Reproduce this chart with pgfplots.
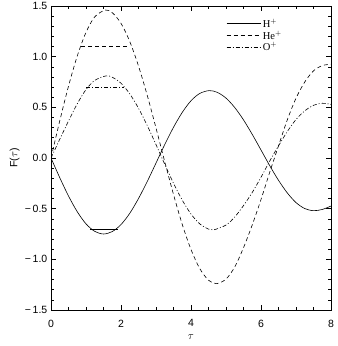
\documentclass[border=0pt]{standalone}
\usepackage{fontspec}
\setmainfont{Liberation Sans}
\newfontfamily\serifleg{Liberation Serif}
\usepackage{pgfplots}
\pgfplotsset{compat=1.18}
\begin{document}
\fontsize{10.5}{12}\selectfont
\begin{tikzpicture}
\begin{axis}[
  width=280pt, height=304pt, scale only axis,
  xmin=0, xmax=8, ymin=-1.5, ymax=1.5,
  xtick={0,2,4,6,8},
  ytick={-1.5,-1,-0.5,0,0.5,1,1.5},
  yticklabels={−\,1.5,−\,1.0,−\,0.5,0.0,0.5,1.0,1.5},
  /pgf/number format/assume math mode=true,
  minor x tick num=3, minor y tick num=4,
  tick align=inside, tick pos=both,
  major tick length=5pt, minor tick length=3pt,
  every tick/.style={black, line width=0.5pt},
  axis line style={line width=0.6pt},
  xticklabel style={yshift=-6pt},
  yticklabel style={xshift=0pt},
  xlabel={$\tau$}, ylabel={F($\tau$)},
  xlabel style={yshift=0pt},
  ylabel style={yshift=-2pt},
  legend cell align=left,
  legend style={draw=none, fill=none, at={(0.625,0.965)}, anchor=north west,
    font=\serifleg\fontsize{10.5}{10}\selectfont, inner sep=0pt, row sep=-2pt},
  legend image code/.code={\draw[#1] (0pt,0pt) -- (34pt,0pt);},
]
\addplot[black, line width=0.6pt, smooth] coordinates {
(0,0) (0.25,-0.194) (0.5,-0.375) (0.75,-0.530) (1.0,-0.650) (1.25,-0.724) (1.5,-0.750)
(1.75,-0.726) (2.0,-0.657) (2.25,-0.546) (2.5,-0.400) (2.75,-0.232) (3.0,-0.050)
(3.25,0.133) (3.5,0.303) (3.75,0.450) (4.0,0.565) (4.25,0.637) (4.52,0.665)
(4.75,0.648) (5.0,0.591) (5.25,0.498) (5.5,0.376) (5.75,0.233) (6.0,0.079)
(6.25,-0.076) (6.5,-0.220) (6.75,-0.344) (7.0,-0.440) (7.25,-0.499) (7.5,-0.520)
(7.75,-0.508) (8.0,-0.474)};
\addlegendentry{H$^+$}
\addplot[black, line width=0.6pt, smooth, dash pattern=on 4pt off 3pt] coordinates {
(0,0) (0.25,0.366) (0.5,0.709) (0.75,1.006) (1.0,1.240) (1.25,1.393) (1.55,1.460)
(1.75,1.434) (2.0,1.329) (2.25,1.150) (2.5,0.908) (2.75,0.618) (3.0,0.296)
(3.25,-0.036) (3.5,-0.360) (3.75,-0.655) (4.0,-0.903) (4.25,-1.091) (4.5,-1.206)
(4.73,-1.240) (5.0,-1.195) (5.25,-1.075) (5.5,-0.885) (5.75,-0.660) (6.0,-0.410)
(6.25,-0.140) (6.5,0.120) (6.75,0.375) (7.0,0.590) (7.25,0.750) (7.5,0.860)
(7.75,0.912) (8.0,0.925)};
\addlegendentry{He$^+$}
\addplot[black, line width=0.6pt, smooth, dash pattern=on 4pt off 2pt on 1pt off 2pt] coordinates {
(0,0) (0.25,0.185) (0.5,0.365) (0.75,0.535) (1.0,0.675) (1.25,0.766) (1.57,0.810)
(1.75,0.797) (2.0,0.738) (2.25,0.633) (2.5,0.491) (2.75,0.320) (3.0,0.132)
(3.25,-0.062) (3.5,-0.249) (3.75,-0.416) (4.0,-0.553) (4.25,-0.650) (4.5,-0.702)
(4.64,-0.710) (5.0,-0.662) (5.25,-0.582) (5.5,-0.470) (5.75,-0.340) (6.0,-0.190)
(6.25,-0.030) (6.5,0.120) (6.75,0.260) (7.0,0.380) (7.25,0.465) (7.5,0.520)
(7.75,0.540) (8.0,0.530)};
\addlegendentry{O$^+$}
\addplot[black, line width=0.6pt, forget plot] coordinates {(1.11,-0.704) (1.90,-0.704)};
\addplot[black, line width=0.6pt, forget plot, dash pattern=on 4pt off 3pt] coordinates {(0.86,1.10) (2.16,1.10)};
\addplot[black, line width=0.6pt, forget plot, dash pattern=on 4pt off 2pt on 1pt off 2pt] coordinates {(1.01,0.70) (2.09,0.70)};
\end{axis}
\pgfresetboundingbox
\path ([shift={(-51pt,-36pt)}]current axis.south west) rectangle ([shift={(7pt,6pt)}]current axis.north east);
\end{tikzpicture}
\end{document}
